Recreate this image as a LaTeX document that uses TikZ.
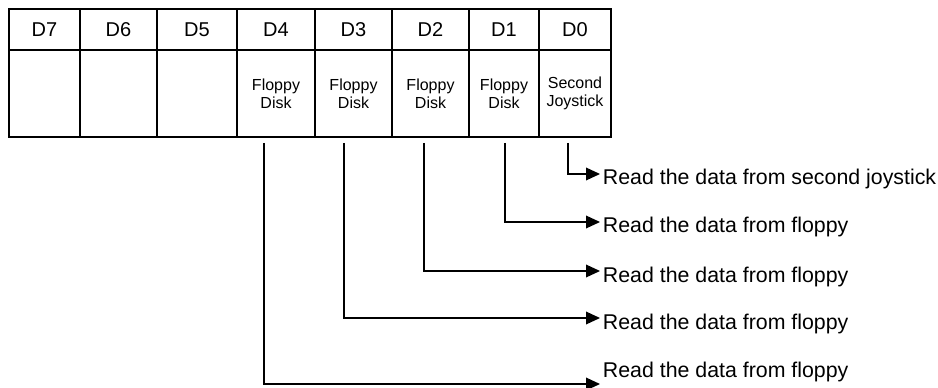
\documentclass[tikz,border=0pt]{standalone}
\usepackage{fontspec}
\setmainfont{Liberation Sans}
\usetikzlibrary{arrows.meta}

\tikzset{
  headcell/.style={draw, line width=1.5pt, minimum height=30.75pt, inner sep=0pt,
    text height=10.5pt, text depth=0pt, font=\fontsize{15}{17}\selectfont},
  bodycell/.style={draw, line width=1.5pt, minimum height=65.25pt, inner sep=0pt,
    align=center, font=\fontsize{12}{13.5}\selectfont},
  readout/.style={anchor=west, inner xsep=2pt, inner ysep=0pt, text height=16.5pt,
    text depth=0pt, font=\fontsize{16}{18}\selectfont},
  link/.style={line width=1pt, -{Triangle[length=10.5pt, width=9.5pt]}}
}

\begin{document}
\begin{tikzpicture}[x=0.75pt, y=-0.75pt]
    \useasboundingbox (0,0) rectangle (938,388);

    % Register bits D7 ... D0
    \foreach \n/\l/\r/\txt in {7/9/80/{}, 6/80/157/{}, 5/157/237/{},
        4/237/315/{Floppy\\Disk}, 3/315/392/{Floppy\\Disk}, 2/392/469/{Floppy\\Disk},
        1/469/539/{Floppy\\Disk}, 0/539/611/{Second\\Joystick}}{
      \node[headcell, minimum width={(\r-\l)*0.75pt}] (h\n) at ({(\l+\r)/2},29.5) {D\n};
      \node[bodycell, minimum width={(\r-\l)*0.75pt}] (b\n) at ({(\l+\r)/2},93.5) {\txt};
    }

    % Where the lines leave the register
    \coordinate (s4) at (264,143);
    \coordinate (s3) at (344,143);
    \coordinate (s2) at (424,143);
    \coordinate (s1) at (505,143);
    \coordinate (s0) at (568,143);

    % What each bit does
    \node[readout] (r0) at (600,174) {Read the data from second joystick};
    \node[readout] (r1) at (600,222) {Read the data from floppy};
    \node[readout] (r2) at (600,271) {Read the data from floppy};
    \node[readout] (r3) at (600,318) {Read the data from floppy};
    \node[readout, anchor=base west] (r4) at (600,377) {Read the data from floppy};
    \coordinate (e4) at (600,384);

    \draw[link] (s0) |- (r0.west);
    \draw[link] (s1) |- (r1.west);
    \draw[link] (s2) |- (r2.west);
    \draw[link] (s3) |- (r3.west);
    \draw[link] (s4) |- (e4);
\end{tikzpicture}
\end{document}
